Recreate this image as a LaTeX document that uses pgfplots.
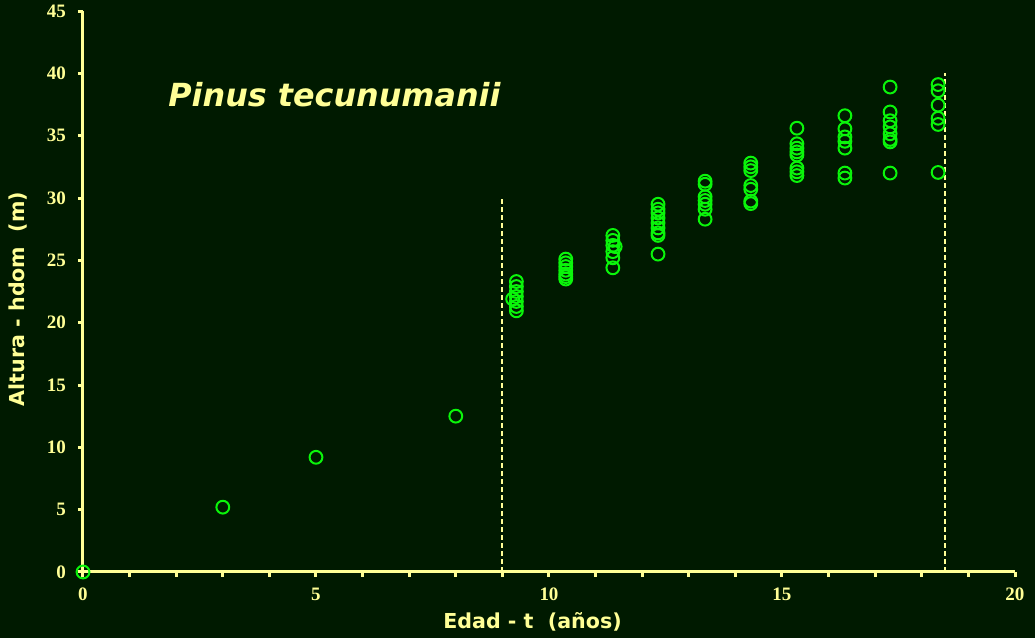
\documentclass[border=0pt]{standalone}
\usepackage{fontspec}
\setmainfont{Liberation Serif}
\newfontfamily\lblfont{DejaVu Sans}
\usepackage{pgfplots}
\pgfplotsset{compat=1.18}
\definecolor{bg}{RGB}{0,26,0}
\definecolor{ax}{RGB}{255,255,150}
\definecolor{mk}{RGB}{10,245,10}
\begin{document}
\begin{tikzpicture}
\fill[bg] (0,0) rectangle (517.5pt,319pt);
\begin{axis}[
  at={(41.5pt,33pt)}, anchor=origin,
  scale only axis, width=466pt, height=280.5pt,
  xmin=0, xmax=20, ymin=0, ymax=45,
  axis x line=bottom, axis y line=left,
  axis line style={-, ax, line width=1.5pt},
  xtick={0,5,...,20}, ytick={0,5,...,45},
  minor xtick={1,2,3,4,6,7,8,9,11,12,13,14,16,17,18,19},
  tick align=outside,
  major tick length=2.5pt, minor tick length=2.5pt,
  tick style={ax, line width=1.5pt},
  /pgf/number format/assume math mode=true,
  ticklabel style={font=\bfseries\fontsize{9.5}{11}\selectfont, text=ax},
  yticklabel style={xshift=-2.5pt},
  xticklabel style={yshift=-2pt},
  clip=false,
]
\addplot[ax, line width=1pt, dash pattern=on 2.5pt off 1.5pt] coordinates {(9,0) (9,30)};
\addplot[ax, line width=1pt, dash pattern=on 2.5pt off 1.5pt] coordinates {(18.5,0) (18.5,40)};
\addplot[only marks, mark=o, mark size=3.2pt, mark options={mk, line width=1pt}] coordinates {
(0,0) (3,5.2) (5,9.2) (8,12.5)
(9.3,23.3) (9.3,22.9) (9.3,22.5) (9.3,22.1) (9.3,21.7) (9.3,21.3) (9.3,20.95) (9.22,21.9)
(10.36,25.1) (10.36,24.8) (10.36,24.5) (10.36,24.2) (10.36,23.9) (10.36,23.7) (10.36,23.5)
(11.37,27.0) (11.37,26.6) (11.37,26.2) (11.37,25.7) (11.37,25.2) (11.37,24.4) (11.42,26.1)
(12.34,29.5) (12.34,29.1) (12.34,28.8) (12.34,28.4) (12.34,28.0) (12.34,27.6) (12.34,27.2) (12.34,27.0) (12.34,25.5)
(13.35,31.35) (13.35,31.1) (13.35,30.1) (13.35,29.8) (13.35,29.5) (13.35,29.1) (13.35,28.3)
(14.33,32.8) (14.33,32.5) (14.33,32.2) (14.33,31.0) (14.33,30.7) (14.33,29.75) (14.33,29.55)
(15.32,35.6) (15.32,34.35) (15.32,34.0) (15.32,33.7) (15.32,33.45) (15.32,32.4) (15.32,32.1) (15.32,31.8)
(16.35,36.6) (16.35,35.55) (16.35,34.9) (16.35,34.55) (16.35,34.0) (16.35,32.0) (16.35,31.6)
(17.32,38.9) (17.32,36.9) (17.32,36.2) (17.32,35.7) (17.32,35.15) (17.32,34.7) (17.32,34.5) (17.32,32.0)
(18.35,39.1) (18.35,38.6) (18.35,37.45) (18.35,36.4) (18.35,35.9) (18.35,32.05)
};
\end{axis}
\node[anchor=base, inner sep=0, text=ax, font=\lblfont\bfseries\fontsize{10.3}{12}\selectfont] at (266.25pt,4.5pt) {Edad - t\ \ (años)};
\node[anchor=base, inner sep=0, rotate=90, text=ax, font=\lblfont\bfseries\fontsize{10.3}{12}\selectfont] at (12.5pt,169.5pt) {Altura - hdom\ \ (m)};
\node[anchor=base west, inner sep=0, text=ax, font=\lblfont\bfseries\itshape\fontsize{15.9}{18}\selectfont] at (84pt,265.5pt) {Pinus tecunumanii};
\pgfresetboundingbox
\useasboundingbox (0,0) rectangle (517.5pt,319pt);
\end{tikzpicture}
\end{document}
